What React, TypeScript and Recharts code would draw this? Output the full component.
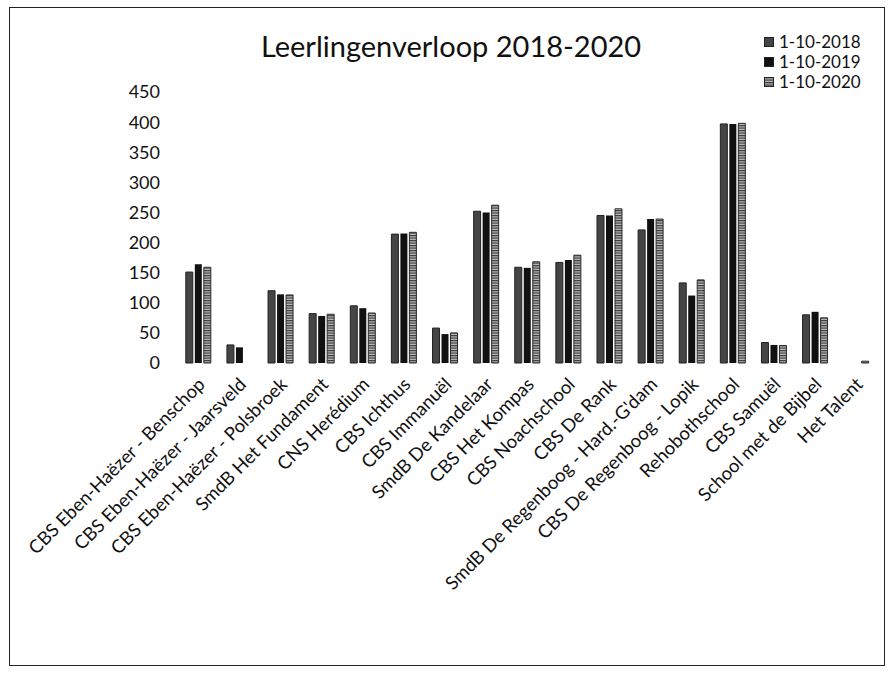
import { BarChart, Bar, XAxis, YAxis } from 'recharts'

const schools = [
  'CBS Eben-Haëzer - Benschop',
  'CBS Eben-Haëzer - Jaarsveld',
  'CBS Eben-Haëzer - Polsbroek',
  'SmdB Het Fundament',
  'CNS Herédium',
  'CBS Ichthus',
  'CBS Immanuël',
  'SmdB De Kandelaar',
  'CBS Het Kompas',
  'CBS Noachschool',
  'CBS De Rank',
  "SmdB De Regenboog - Hard.-G'dam",
  'CBS De Regenboog - Lopik',
  'Rehobothschool',
  'CBS Samuël',
  'School met de Bijbel',
  'Het Talent',
]

const y2018 = [151, 30, 120, 82, 95, 214, 58, 252, 159, 167, 245, 221, 133, 397, 34, 80, null]
const y2019 = [164, 26, 114, 78, 91, 215, 48, 250, 158, 171, 245, 239, 112, 397, 30, 85, null]
const y2020 = [159, null, 113, 81, 83, 217, 50, 262, 168, 179, 256, 239, 138, 398, 29, 75, 3]

const yTicks = [0, 50, 100, 150, 200, 250, 300, 350, 400, 450]

const seriesNames = ['1-10-2018', '1-10-2019', '1-10-2020']

const data = schools.map((name, i) => ({
  name,
  a: y2018[i],
  b: y2019[i],
  c: y2020[i],
}))

const font = 'Lato, "Open Sans", sans-serif'

function SchoolTick(props: any) {
  const { x, y, payload } = props
  const tx = x + 3
  const ty = y + 10
  return (
    <text
      x={tx}
      y={ty}
      transform={`rotate(-45 ${tx} ${ty})`}
      textAnchor="end"
      dy="0.35em"
      fontSize={18.5}
      fontFamily={font}
      fill="#111"
    >
      {payload.value}
    </text>
  )
}

function Swatch({ kind }: { kind: number }) {
  const fills = ['#444', '#111']
  return (
    <svg width={10} height={10} style={{ marginRight: 5 }}>
      <defs>
        <pattern id="hatchL" width="3" height="2.5" patternUnits="userSpaceOnUse">
          <rect width="3" height="2.5" fill="#bbb" />
          <rect width="3" height="1.2" fill="#333" />
        </pattern>
      </defs>
      <rect
        x={0.5}
        y={0.5}
        width={9}
        height={9}
        fill={kind === 2 ? 'url(#hatchL)' : fills[kind]}
        stroke="#222"
      />
    </svg>
  )
}

export default function App() {
  return (
    <div style={{ position: 'relative', width: 890, height: 674, background: '#fff' }}>
      <style>{'body{margin:0}'}</style>
      <div
        style={{
          position: 'absolute',
          left: 9,
          top: 7,
          width: 874,
          height: 657,
          border: '1.5px solid #222',
        }}
      />
      <div
        style={{
          position: 'absolute',
          left: 0,
          width: 902,
          top: 28,
          textAlign: 'center',
          fontFamily: font,
          fontSize: 29,
          color: '#111',
        }}
      >
        Leerlingenverloop 2018-2020
      </div>
      <div
        style={{
          position: 'absolute',
          left: 764,
          top: 32,
          fontFamily: font,
          fontSize: 17,
          color: '#111',
          lineHeight: '20px',
        }}
      >
        {seriesNames.map((s, i) => (
          <div key={s} style={{ display: 'flex', alignItems: 'center' }}>
            <Swatch kind={i} />
            {s}
          </div>
        ))}
      </div>
      <div style={{ position: 'absolute', top: 0, left: 0 }}>
        <BarChart
          width={890}
          height={674}
          data={data}
          margin={{ top: 92, right: 13, left: 0, bottom: 0 }}
          barCategoryGap="19%"
          barGap={2}
        >
          <defs>
            <pattern id="hatch" width="4" height="2.5" patternUnits="userSpaceOnUse">
              <rect width="4" height="2.5" fill="#bdbdbd" />
              <rect width="4" height="1.2" fill="#3a3a3a" />
            </pattern>
          </defs>
          <XAxis
            dataKey="name"
            interval={0}
            axisLine={false}
            tickLine={false}
            tick={<SchoolTick />}
            height={311}
          />
          <YAxis
            domain={[0, 450]}
            ticks={yTicks}
            width={178}
            axisLine={false}
            tickLine={false}
            tickSize={0}
            tickMargin={18}
            tick={{ fontSize: 18, fontFamily: font, fill: '#111' }}
          />
          <Bar dataKey="a" name={seriesNames[0]} fill="#454545" stroke="#222" strokeWidth={1} isAnimationActive={false} />
          <Bar dataKey="b" name={seriesNames[1]} fill="#111" isAnimationActive={false} />
          <Bar dataKey="c" name={seriesNames[2]} fill="url(#hatch)" stroke="#2a2a2a" strokeWidth={1} isAnimationActive={false} />
        </BarChart>
      </div>
    </div>
  )
}
